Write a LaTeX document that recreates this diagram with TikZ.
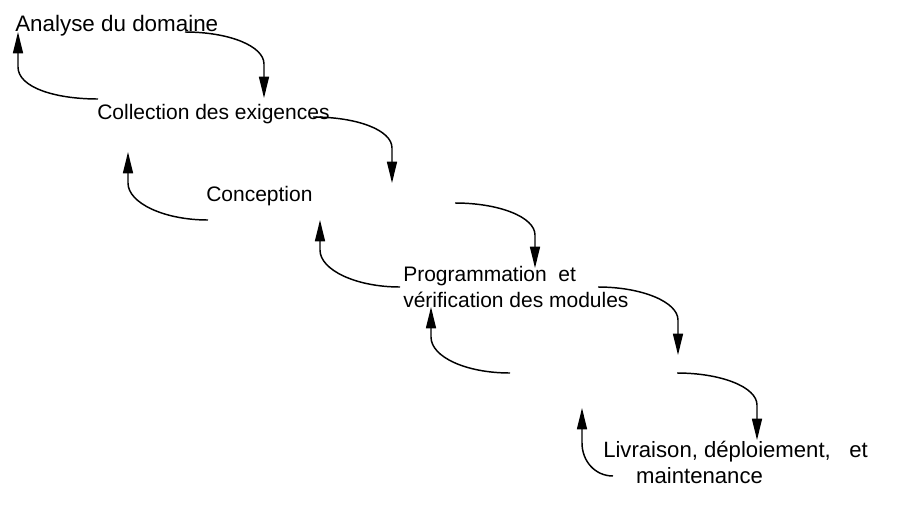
\documentclass[tikz,border=0pt]{standalone}
\usepackage{fontspec}
\setmainfont{Liberation Sans}
\usetikzlibrary{arrows.meta}

\begin{document}
\begin{tikzpicture}[
    x=0.75pt, y=-0.75pt,
    phase/.style={anchor=base west, inner sep=0pt, align=left, font=\fontsize{15.75}{19}\selectfont},
    arrow/.style={-{Triangle[length=16pt, width=7.5pt]}, line width=1.1pt}
]
    \useasboundingbox (0,0) rectangle (907,504);

    \node[phase, font=\fontsize{16.8}{19}\selectfont] (analyse) at (15,31) {Analyse du domaine};
    \node[phase] (collection) at (97,119) {Collection des exigences};
    \node[phase] (conception) at (206,201) {Conception};
    \node[phase] (programmation) at (403,307) {Programmation~ et\\v\'erification des modules};
    \node[phase, font=\fontsize{16.6}{19.2}\selectfont] (livraison) at (603,483) {Livraison, d\'eploiement,~~ et\\\hspace*{24.7pt}maintenance};

    \coordinate (s1) at (185,32);  \coordinate (c1) at (264,64);  \coordinate (t1) at (264,98);
    \coordinate (s2) at (313,117); \coordinate (c2) at (392,148); \coordinate (t2) at (392,183);
    \coordinate (s3) at (455,203); \coordinate (c3) at (535,235); \coordinate (t3) at (535,268);
    \coordinate (s4) at (598,287); \coordinate (c4) at (678,320); \coordinate (t4) at (678,355);
    \coordinate (s5) at (677,373); \coordinate (c5) at (757,405); \coordinate (t5) at (757,440);

    \coordinate (u1) at (98,99);   \coordinate (b1) at (18,67);   \coordinate (v1) at (18,32);
    \coordinate (u2) at (208,220); \coordinate (b2) at (128,183); \coordinate (v2) at (128,152);
    \coordinate (u3) at (400,287); \coordinate (b3) at (320,250); \coordinate (v3) at (320,220);
    \coordinate (u4) at (510,373); \coordinate (b4) at (431,337); \coordinate (v4) at (431,307);
    \coordinate (u5) at (613,476); \coordinate (b5) at (582,443); \coordinate (v5) at (582,408);

    \foreach \i in {1,...,5} {
        \draw[arrow] (s\i) .. controls +(44,0) and +(0,-18) .. (c\i) -- (t\i);
    }
    \foreach \i in {1,...,4} {
        \draw[arrow] (u\i) .. controls +(-44,0) and +(0,20) .. (b\i) -- (v\i);
    }
    \draw[arrow] (u5) .. controls +(-18,0) and +(0,18) .. (b5) -- (v5);
\end{tikzpicture}
\end{document}
